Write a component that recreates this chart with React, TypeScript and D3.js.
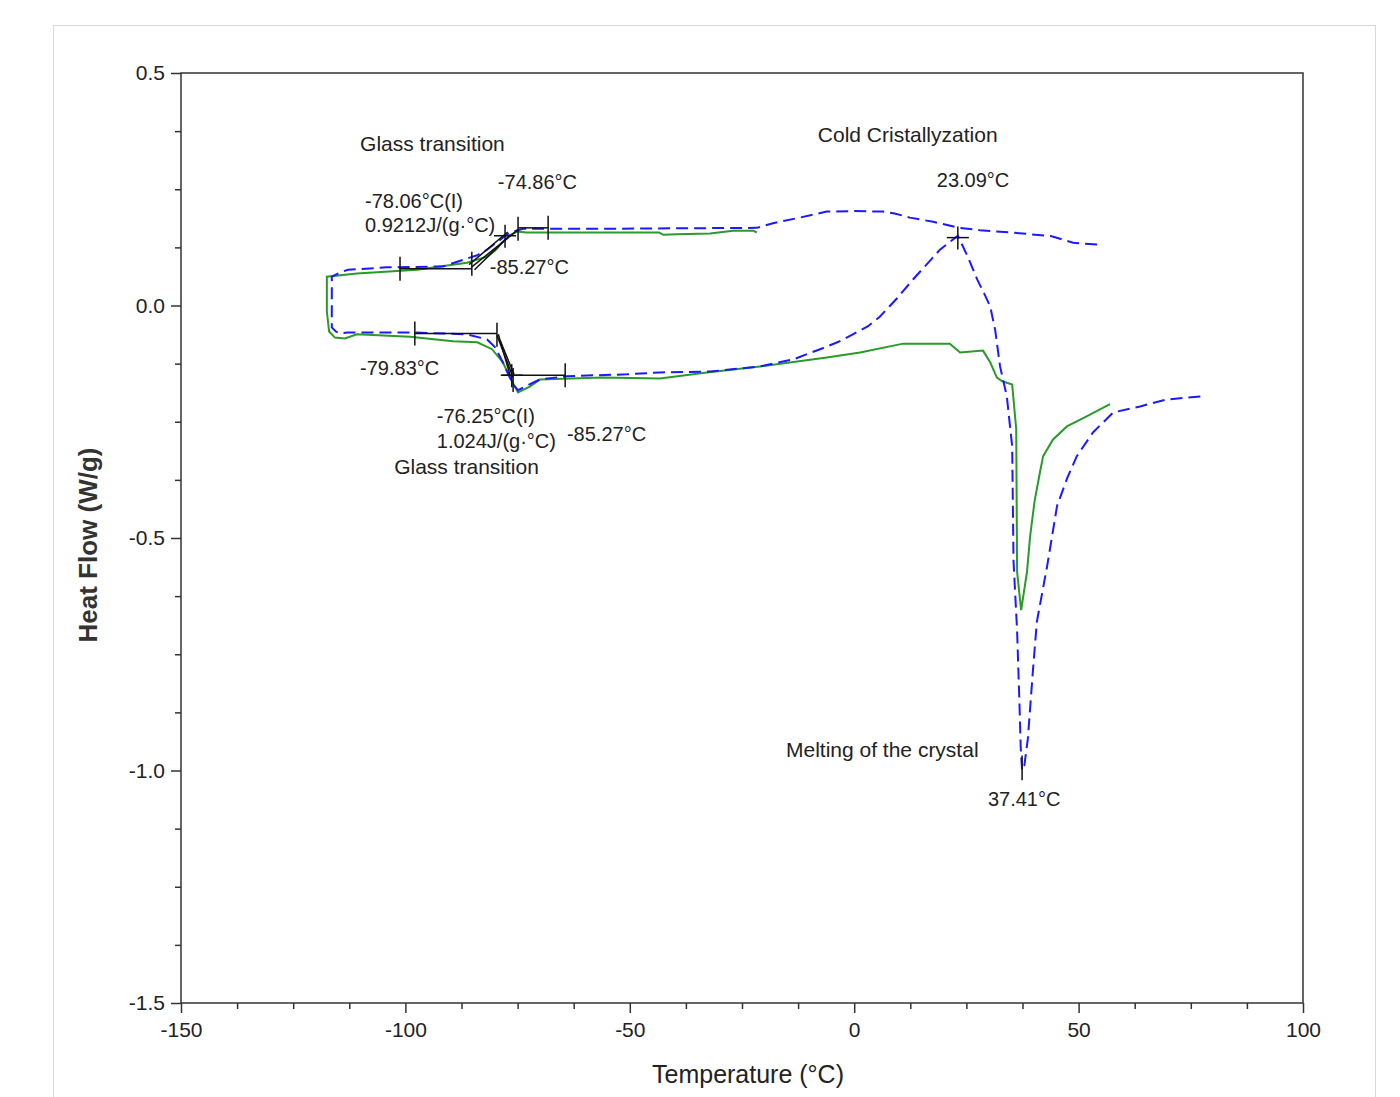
import React, { useEffect, useRef } from 'react'
import * as d3 from 'd3'

type Pt = [number, number]

// heating/cooling loop, sample 1 (blue dashed) - [temperature °C, heat flow W/g]
const blueRun: Pt[] = [
  [54.1, 0.131], [48.8, 0.135], [44.0, 0.149], [35.0, 0.157], [28.0, 0.162],
  [23.3, 0.167], [17.6, 0.18], [12.4, 0.189], [9.0, 0.198], [6.4, 0.202],
  [0.0, 0.203], [-6.1, 0.202], [-12.1, 0.189], [-18.1, 0.177], [-21.7, 0.167],
  [-40.0, 0.166], [-54.4, 0.165], [-73.8, 0.165], [-76.7, 0.157], [-79.5, 0.137],
  [-81.8, 0.12], [-84.0, 0.108], [-86.3, 0.101], [-91.6, 0.084], [-104.1, 0.082],
  [-112.8, 0.077], [-114.6, 0.071], [-116.4, 0.062], [-116.4, 0.0], [-116.4, -0.047],
  [-115.5, -0.056], [-114.6, -0.06], [-112.8, -0.058], [-97.9, -0.058], [-86.3, -0.062],
  [-81.8, -0.073], [-80.0, -0.09], [-78.3, -0.122], [-76.0, -0.17], [-74.9, -0.182],
  [-72.9, -0.172], [-70.0, -0.159], [-64.0, -0.152], [-50.6, -0.148], [-43.3, -0.144],
  [-32.1, -0.142], [-21.0, -0.131], [-13.6, -0.116], [-7.6, -0.094], [-3.5, -0.078],
  [-0.3, -0.062], [3.0, -0.045], [5.7, -0.024], [9.5, 0.015], [13.1, 0.056],
  [16.3, 0.09], [19.1, 0.12], [21.5, 0.138], [23.1, 0.15], [25.3, 0.105],
  [27.4, 0.056], [29.0, 0.025], [30.3, -0.002], [31.4, -0.052], [32.5, -0.131],
  [34.0, -0.195], [35.2, -0.303], [35.5, -0.55], [36.3, -0.7], [36.8, -0.85],
  [37.1, -0.95], [37.41, -1.0], [37.9, -0.99], [38.7, -0.931], [39.8, -0.788],
  [40.7, -0.68], [43.0, -0.56], [45.2, -0.431], [47.5, -0.37], [49.6, -0.324],
  [53.2, -0.273], [57.7, -0.23], [63.7, -0.217], [69.7, -0.202], [78.2, -0.195],
]

// sample 2 (green solid)
const greenRun: Pt[] = [
  [-21.7, 0.157], [-22.5, 0.161], [-27.0, 0.161], [-32.1, 0.155], [-39.5, 0.153],
  [-42.5, 0.152], [-43.5, 0.157], [-54.4, 0.157], [-73.0, 0.157], [-75.1, 0.159],
  [-76.5, 0.152], [-78.3, 0.137], [-80.0, 0.118], [-81.8, 0.105], [-86.3, 0.092],
  [-97.4, 0.077], [-110.8, 0.069], [-117.5, 0.062], [-117.5, -0.013], [-117.0, -0.056],
  [-115.7, -0.069], [-113.5, -0.071], [-110.8, -0.062], [-99.0, -0.067], [-89.4, -0.077],
  [-84.0, -0.079], [-80.7, -0.094], [-78.3, -0.122], [-76.25, -0.163], [-74.9, -0.187],
  [-72.2, -0.174], [-70.0, -0.159], [-56.0, -0.155], [-43.3, -0.157], [-32.8, -0.144],
  [-21.0, -0.131], [-6.1, -0.112], [1.3, -0.101], [10.9, -0.082], [21.3, -0.082],
  [23.6, -0.101], [28.7, -0.097], [30.3, -0.122], [31.8, -0.155], [33.0, -0.163],
  [35.2, -0.17], [36.1, -0.266], [36.3, -0.573], [37.2, -0.655], [38.5, -0.573],
  [39.2, -0.496], [40.2, -0.42], [41.4, -0.358], [42.1, -0.324], [44.3, -0.288],
  [47.4, -0.26], [51.9, -0.238], [57.0, -0.212],
]

// glass-transition analysis construction lines
const analysisLines: [Pt, Pt][] = [
  [[-101.2, 0.079], [-85.2, 0.079]],
  [[-85.2, 0.083], [-74.9, 0.163]],
  [[-84.6, 0.077], [-76.6, 0.152]],
  [[-85.8, 0.088], [-77.2, 0.158]],
  [[-74.9, 0.167], [-68.2, 0.167]],
  [[-97.9, -0.06], [-79.6, -0.06]],
  [[-79.6, -0.064], [-76.0, -0.155]],
  [[-78.9, -0.075], [-75.8, -0.148]],
  [[-79.3, -0.062], [-76.6, -0.152]],
  [[-78.5, -0.15], [-64.4, -0.15]],
]
const analysisTicks: Pt[] = [
  [-101.2, 0.079], [-85.2, 0.09], [-74.9, 0.165], [-68.2, 0.167],
  [-97.9, -0.06], [-79.6, -0.063], [-76.0, -0.16], [-64.4, -0.15],
]
const analysisCrosses: Pt[] = [[-77.8, 0.15], [-76.3, -0.15], [23.09, 0.146]]
const meltPeak: Pt[] = [[37.41, -0.968], [37.41, -1.021]]

const annotations = [
  { text: 'Glass transition', t: -110.1, hf: 0.333, size: 21 },
  { text: '-74.86°C', t: -79.4, hf: 0.251, size: 20 },
  { text: '-78.06°C(I)', t: -109.0, hf: 0.21, size: 20 },
  { text: '0.9212J/(g·°C)', t: -109.0, hf: 0.157, size: 20 },
  { text: '-85.27°C', t: -81.2, hf: 0.067, size: 20 },
  { text: '-79.83°C', t: -110.1, hf: -0.15, size: 20 },
  { text: '-76.25°C(I)', t: -93.0, hf: -0.253, size: 20 },
  { text: '1.024J/(g·°C)', t: -93.0, hf: -0.307, size: 20 },
  { text: '-85.27°C', t: -64.0, hf: -0.292, size: 20 },
  { text: 'Glass transition', t: -102.5, hf: -0.363, size: 21 },
  { text: 'Cold Cristallyzation', t: -8.1, hf: 0.352, size: 21 },
  { text: '23.09°C', t: 18.4, hf: 0.255, size: 20 },
  { text: 'Melting of the crystal', t: -15.2, hf: -0.97, size: 21 },
  { text: '37.41°C', t: 29.8, hf: -1.077, size: 20 },
]

const xMajorTicks = [-150, -100, -50, 0, 50, 100]
const xTickLabels = ['-150', '-100', '-50', '0', '50', '100']
const yMajorTicks = [0.5, 0.0, -0.5, -1.0, -1.5]
const yTickLabels = ['0.5', '0.0', '-0.5', '-1.0', '-1.5']

const WIDTH = 1400
const HEIGHT = 1097
const margin = { top: 73, right: 97, bottom: 94, left: 181 }
const FONT = "'Liberation Sans', Arial, sans-serif"
const INK = '#222'

const App = () => {
  const ref = useRef<SVGSVGElement>(null)

  useEffect(() => {
    const svg = d3.select(ref.current)
    svg.selectAll('*').remove()

    const x = d3.scaleLinear().domain([-150, 100]).range([margin.left, WIDTH - margin.right])
    const y = d3.scaleLinear().domain([-1.5, 0.5]).range([HEIGHT - margin.bottom, margin.top])

    // outer figure frame
    svg.append('rect')
      .attr('x', 53.5).attr('y', 25.5)
      .attr('width', 1322).attr('height', 1100)
      .attr('fill', 'none').attr('stroke', '#d8d8d8')

    const xMinor = d3.range(-150, 100.01, 12.5).filter((d) => !xMajorTicks.includes(d))
    const yMinor = d3.range(-1.5, 0.501, 0.125).filter((d) => !yMajorTicks.some((m) => Math.abs(m - d) < 1e-6))

    const styleAxis = (g: any) => {
      g.select('.domain').remove()
      g.selectAll('line').attr('stroke', '#333').attr('stroke-width', 1.5)
      g.selectAll('text').attr('font-family', FONT).attr('font-size', 21).attr('fill', INK)
    }

    svg.append('g')
      .attr('transform', `translate(0,${y(-1.5)})`)
      .call(d3.axisBottom(x).tickValues(xMinor).tickSize(6).tickFormat(() => ''))
      .call(styleAxis)
    svg.append('g')
      .attr('transform', `translate(0,${y(-1.5)})`)
      .call(d3.axisBottom(x).tickValues(xMajorTicks).tickSize(10).tickPadding(9)
        .tickFormat((_d, i) => xTickLabels[i]))
      .call(styleAxis)

    svg.append('g')
      .attr('transform', `translate(${x(-150)},0)`)
      .call(d3.axisLeft(y).tickValues(yMinor).tickSize(6).tickFormat(() => ''))
      .call(styleAxis)
    svg.append('g')
      .attr('transform', `translate(${x(-150)},0)`)
      .call(d3.axisLeft(y).tickValues(yMajorTicks).tickSize(10).tickPadding(6)
        .tickFormat((_d, i) => yTickLabels[i]))
      .call(styleAxis)

    // plot frame
    svg.append('rect')
      .attr('x', x(-150)).attr('y', y(0.5))
      .attr('width', x(100) - x(-150)).attr('height', y(-1.5) - y(0.5))
      .attr('fill', 'none').attr('stroke', '#333').attr('stroke-width', 1.5)

    const line = d3.line<Pt>().x((d) => x(d[0])).y((d) => y(d[1]))

    svg.append('path')
      .datum(greenRun)
      .attr('d', line)
      .attr('fill', 'none')
      .attr('stroke', '#2a9a2a')
      .attr('stroke-width', 2)

    svg.append('path')
      .datum(blueRun)
      .attr('d', line)
      .attr('fill', 'none')
      .attr('stroke', '#1a1aff')
      .attr('stroke-width', 2)
      .attr('stroke-dasharray', '12,6')

    const marks = svg.append('g').attr('stroke', '#111').attr('stroke-width', 1.5)

    marks.selectAll('path.tangent')
      .data(analysisLines)
      .join('path')
      .attr('class', 'tangent')
      .attr('d', (d) => line(d))
      .attr('fill', 'none')

    marks.selectAll('line.tick')
      .data(analysisTicks)
      .join('line')
      .attr('class', 'tick')
      .attr('x1', (d) => x(d[0])).attr('x2', (d) => x(d[0]))
      .attr('y1', (d) => y(d[1]) - 12).attr('y2', (d) => y(d[1]) + 12)

    const cross = marks.selectAll('g.cross')
      .data(analysisCrosses)
      .join('g')
      .attr('class', 'cross')
      .attr('transform', (d) => `translate(${x(d[0])},${y(d[1])})`)
    cross.append('line').attr('x1', -11).attr('x2', 11)
    cross.append('line').attr('y1', -11).attr('y2', 12)

    marks.append('path')
      .datum(meltPeak)
      .attr('d', line)

    svg.append('g')
      .selectAll('text')
      .data(annotations)
      .join('text')
      .attr('x', (d) => x(d.t))
      .attr('y', (d) => y(d.hf))
      .attr('font-family', FONT)
      .attr('font-size', (d) => d.size)
      .attr('fill', INK)
      .text((d) => d.text)

    svg.append('text')
      .attr('x', (x(-150) + x(100)) / 2 + 6)
      .attr('y', 1083)
      .attr('text-anchor', 'middle')
      .attr('font-family', FONT)
      .attr('font-size', 25)
      .attr('fill', INK)
      .text('Temperature (°C)')

    svg.append('text')
      .attr('transform', `translate(97,${(y(0.5) + y(-1.5)) / 2 + 7}) rotate(-90)`)
      .attr('text-anchor', 'middle')
      .attr('font-family', FONT)
      .attr('font-size', 26)
      .attr('font-weight', 'bold')
      .attr('fill', '#333')
      .text('Heat Flow (W/g)')
  }, [])

  return (
    <svg
      ref={ref}
      width={WIDTH}
      height={HEIGHT}
      style={{ position: 'absolute', left: 0, top: 0, background: '#fff' }}
    />
  )
}

export default App
